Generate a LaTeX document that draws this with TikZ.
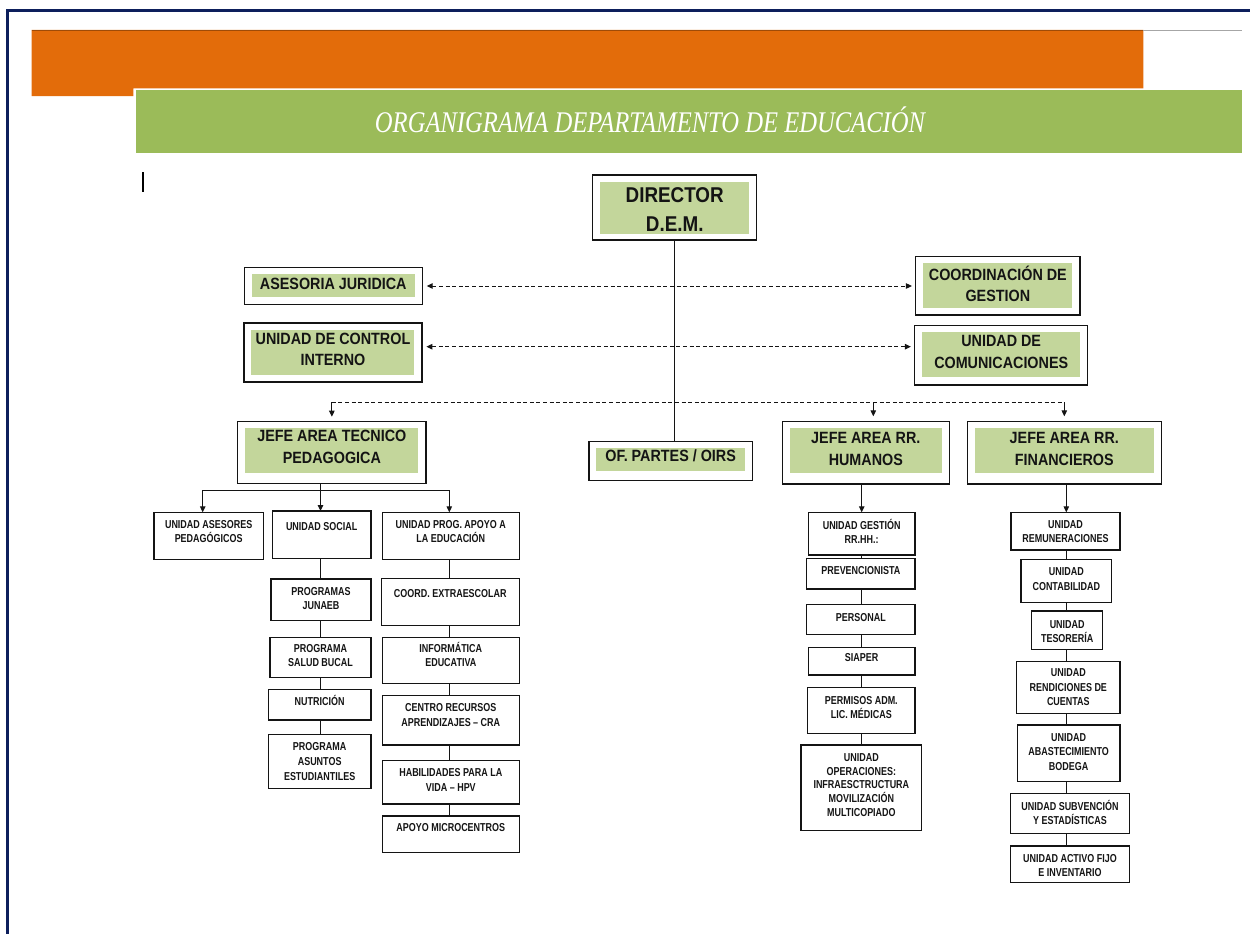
\documentclass[tikz,border=0pt]{standalone}
\usepackage{fontspec}
\usetikzlibrary{arrows.meta}
\newfontfamily\afa[FakeStretch=0.88]{Liberation Sans}
\newfontfamily\afb[FakeStretch=0.78]{Liberation Sans}
\newfontfamily\ttl[FakeStretch=0.82]{Liberation Serif}
\definecolor{navy}{HTML}{0D1F5C}
\definecolor{orng}{HTML}{E36C0A}
\definecolor{gbar}{HTML}{9BBB59}
\definecolor{gfill}{HTML}{C3D69B}
\definecolor{ink}{HTML}{141414}
% box text: width, height, first-baseline offset from top, text
\newcommand\bt[4]{\parbox[c][#2pt][t]{#1pt}{\centering\vspace*{\dimexpr#3pt-\baselineskip\relax}\prevdepth=0pt #4\par}}
\tikzset{
  tbox/.style={draw=ink, line width=1.3pt, inner sep=0pt, outer sep=0pt, text=ink,
    font=\afa\bfseries\fontsize{16.3}{21.5}\selectfont},
  gin/.style={path picture={\fill[gfill] ([shift={(7.4pt,-6.5pt)}]path picture bounding box.north west) rectangle ([shift={(-7.6pt,#1)}]path picture bounding box.south east);}},
  sbox/.style={draw=ink, line width=1.2pt, inner sep=0pt, outer sep=0pt, text=ink,
    font=\afb\bfseries\fontsize{11.5}{14.3}\selectfont},
  conn/.style={draw=ink, line width=1pt},
  dline/.style={conn, dash pattern=on 4pt off 2.6pt},
  tip/.style={-{Triangle[length=6pt,width=5.5pt]}},
  tips/.style={{Triangle[length=6pt,width=5.5pt]}-{Triangle[length=6pt,width=5.5pt]}},
}
\begin{document}
\begin{tikzpicture}[x=1pt,y=-1pt]
\useasboundingbox (0,0) rectangle (1250,934);
% page frame and header
\draw[navy, line width=3pt] (7.3,934) -- (7.3,10.7) -- (1250,10.7);
\fill[orng] (31.7,30) -- (1143.3,30) -- (1143.3,88.3) -- (133.3,88.3) -- (133.3,96) -- (31.7,96) -- cycle;
\draw[orng!70!black, line width=0.8pt] (31.7,30.4) -- (1143.3,30.4);
\draw[gray!70, line width=0.8pt] (1143.3,30.5) -- (1242,30.5);
\fill[gbar] (136,90) rectangle (1242,152.5);
\node[font=\ttl\itshape\fontsize{30}{30}\selectfont, text=white, inner sep=0pt] (title) at (650,120) {ORGANIGRAMA DEPARTAMENTO DE EDUCACIÓN};
\draw[black, line width=1.6pt] (143,172) -- (143,192);

% top level boxes
\node[tbox, gin=6pt, font=\afa\bfseries\fontsize{21.4}{28.5}\selectfont] (dir) at (674.7,207.5) {\bt{164}{65}{27.65}{DIRECTOR\\D.E.M.}};
\node[tbox, gin=7.5pt] (aj) at (333.3,286) {\bt{178}{36.6}{21.65}{ASESORIA JURIDICA}};
\node[tbox, gin=7.5pt] (uci) at (333,352.5) {\bt{178}{59}{21.15}{UNIDAD DE CONTROL\\INTERNO}};
\node[tbox, gin=6.7pt] (cg) at (997.85,285.85) {\bt{164.3}{58.3}{23.5}{COORDINACIÓN DE\\GESTION}};
\node[tbox, gin=8.3pt] (ucom) at (1001.2,355.35) {\bt{173}{59.3}{20.95}{UNIDAD DE\\COMUNICACIONES}};
\node[tbox, gin=10.6pt] (jtp) at (331.85,452.5) {\bt{188.3}{61.6}{20.15}{JEFE AREA TECNICO\\PEDAGOGICA}};
\node[tbox, gin=10pt] (ofp) at (670.65,461.2) {\bt{163.3}{39}{19.95}{OF. PARTES / OIRS}};
\node[tbox, gin=11.3pt] (jrh) at (865.8,452.65) {\bt{167}{62.7}{22.35}{JEFE AREA RR.\\HUMANOS}};
\node[tbox, gin=11.3pt] (jrf) at (1064.3,452.65) {\bt{194}{62.7}{22.35}{JEFE AREA RR.\\FINANCIEROS}};

% technical-pedagogical area
\node[sbox] (uap) at (208.65,535.8) {\bt{109.3}{47}{15.8}{UNIDAD ASESORES\\PEDAGÓGICOS}};
\node[sbox] (us) at (321.65,534.65) {\bt{98.7}{47.3}{19.1}{UNIDAD SOCIAL}};
\node[sbox] (upae) at (450.8,535.8) {\bt{137}{47}{16.1}{UNIDAD PROG. APOYO A\\LA EDUCACIÓN}};
\node[sbox] (pj) at (321,599.85) {\bt{100}{41.7}{16.1}{PROGRAMAS\\JUNAEB}};
\node[sbox] (psb) at (320.5,657.3) {\bt{101}{40}{15.1}{PROGRAMA\\SALUD BUCAL}};
\node[sbox] (nut) at (319.65,704.65) {\bt{102.7}{30.7}{16.5}{NUTRICIÓN}};
\node[sbox, font=\afb\bfseries\fontsize{11.5}{14.7}\selectfont] (pae) at (319.65,761.3) {\bt{102.7}{54}{16.5}{PROGRAMA\\ASUNTOS\\ESTUDIANTILES}};
\node[sbox] (ce) at (450.3,602) {\bt{138}{47.4}{19.1}{COORD. EXTRAESCOLAR}};
\node[sbox] (ie) at (450.8,660.3) {\bt{137}{46}{15.1}{INFORMÁTICA\\EDUCATIVA}};
\node[sbox] (cra) at (450.8,720.35) {\bt{137}{49.3}{16.1}{CENTRO RECURSOS\\APRENDIZAJES – CRA}};
\node[sbox] (hpv) at (450.8,782.35) {\bt{137}{43.3}{16.1}{HABILIDADES PARA LA\\VIDA – HPV}};
\node[sbox] (am) at (450.8,834.35) {\bt{137}{36.7}{15.8}{APOYO MICROCENTROS}};

% human resources
\node[sbox] (ug) at (861.65,533.65) {\bt{106.7}{42.7}{16.8}{UNIDAD GESTIÓN\\RR.HH.:}};
\node[sbox] (prev) at (860.85,573.65) {\bt{108.3}{30.7}{16.5}{PREVENCIONISTA}};
\node[sbox] (pers) at (860.85,619.3) {\bt{108.3}{30}{17.1}{PERSONAL}};
\node[sbox] (siap) at (861.65,661.35) {\bt{106.7}{27.3}{13.7}{SIAPER}};
\node[sbox] (perm) at (861.35,710.5) {\bt{107.3}{45.6}{16.4}{PERMISOS ADM.\\LIC. MÉDICAS}};
\node[sbox, font=\afb\bfseries\fontsize{11.5}{13.75}\selectfont] (uop) at (861.35,787.85) {\bt{120.7}{85.7}{16.4}{UNIDAD\\OPERACIONES:\\INFRAESCTRUCTURA\\MOVILIZACIÓN\\MULTICOPIADO}};

% financial resources
\node[sbox] (rem) at (1065.5,531.15) {\bt{109}{37.7}{15.8}{UNIDAD\\REMUNERACIONES}};
\node[sbox] (cont) at (1066.35,581) {\bt{90.7}{43.4}{16.5}{UNIDAD\\CONTABILIDAD}};
\node[sbox] (tes) at (1067.2,630.15) {\bt{71}{38.3}{17.1}{UNIDAD\\TESORERÍA}};
\node[sbox] (rend) at (1068.35,687.5) {\bt{103.3}{51.6}{15.1}{UNIDAD\\RENDICIONES DE\\CUENTAS}};
\node[sbox] (abas) at (1068.65,753.35) {\bt{102.7}{56.7}{16.4}{UNIDAD\\ABASTECIMIENTO\\BODEGA}};
\node[sbox] (subv) at (1070,813.3) {\bt{118.6}{40}{16.8}{UNIDAD SUBVENCIÓN\\Y ESTADÍSTICAS}};
\node[sbox] (act) at (1070,864.35) {\bt{118.6}{36.7}{16.4}{UNIDAD ACTIVO FIJO\\E INVENTARIO}};

% helper coordinates
\coordinate (d2) at (674,346.7);
\coordinate (bus) at (674,402.3);
\coordinate (hra) at ([xshift=7.5pt]jrh.north);
\coordinate (tb) at (320.5,490);
\coordinate (tba) at (202.7,490);
\coordinate (tbc) at (449.3,490);
\coordinate (sc) at (320.5,0);
\coordinate (pc) at (449.3,0);
\coordinate (hc) at (861.7,0);
\coordinate (fc) at (1066.3,0);

% staff connectors
\draw[conn] (dir.south) -- (dir.south |- ofp.north);
\draw[dline, tips, shorten <=4.4pt, shorten >=3.8pt] (aj.east) -- (aj.east -| cg.west);
\draw[dline, tips, shorten <=4.4pt, shorten >=3.8pt] (uci.east |- d2) -- (ucom.west |- d2);
\draw[dline] (jtp.north |- bus) -- (jrf.north |- bus);
\draw[conn, tip, shorten >=5pt] (jtp.north |- bus) -- (jtp.north);
\draw[conn, tip, shorten >=5pt] (hra |- bus) -- (hra);
\draw[conn, tip, shorten >=5pt] (jrf.north |- bus) -- (jrf.north);

% technical-pedagogical tree
\draw[conn] (jtp.south -| tb) -- (tb);
\draw[conn] (tba) -- (tbc);
\draw[conn, tip] (tba) -- (tba |- uap.north);
\draw[conn, tip] (tb) -- (tb |- us.north);
\draw[conn, tip] (tbc) -- (tbc |- upae.north);
\draw[conn] (us.south -| sc) -- (pj.north -| sc);
\draw[conn] (pj.south -| sc) -- (psb.north -| sc);
\draw[conn] (psb.south -| sc) -- (nut.north -| sc);
\draw[conn] (nut.south -| sc) -- (pae.north -| sc);
\draw[conn] (upae.south -| pc) -- (ce.north -| pc);
\draw[conn] (ce.south -| pc) -- (ie.north -| pc);
\draw[conn] (ie.south -| pc) -- (cra.north -| pc);
\draw[conn] (cra.south -| pc) -- (hpv.north -| pc);
\draw[conn] (hpv.south -| pc) -- (am.north -| pc);

% human resources tree
\draw[conn, tip] (jrh.south -| hc) -- (ug.north -| hc);
\draw[conn] (ug.south -| hc) -- (prev.north -| hc);
\draw[conn] (prev.south -| hc) -- (pers.north -| hc);
\draw[conn] (pers.south -| hc) -- (siap.north -| hc);
\draw[conn] (siap.south -| hc) -- (perm.north -| hc);
\draw[conn] (perm.south -| hc) -- (uop.north -| hc);

% financial tree
\draw[conn, tip] (jrf.south -| fc) -- (rem.north -| fc);
\draw[conn] (rem.south -| fc) -- (cont.north -| fc);
\draw[conn] (cont.south -| fc) -- (tes.north -| fc);
\draw[conn] (tes.south -| fc) -- (rend.north -| fc);
\draw[conn] (rend.south -| fc) -- (abas.north -| fc);
\draw[conn] (abas.south -| fc) -- (subv.north -| fc);
\draw[conn] (subv.south -| fc) -- (act.north -| fc);
\end{tikzpicture}
\end{document}
